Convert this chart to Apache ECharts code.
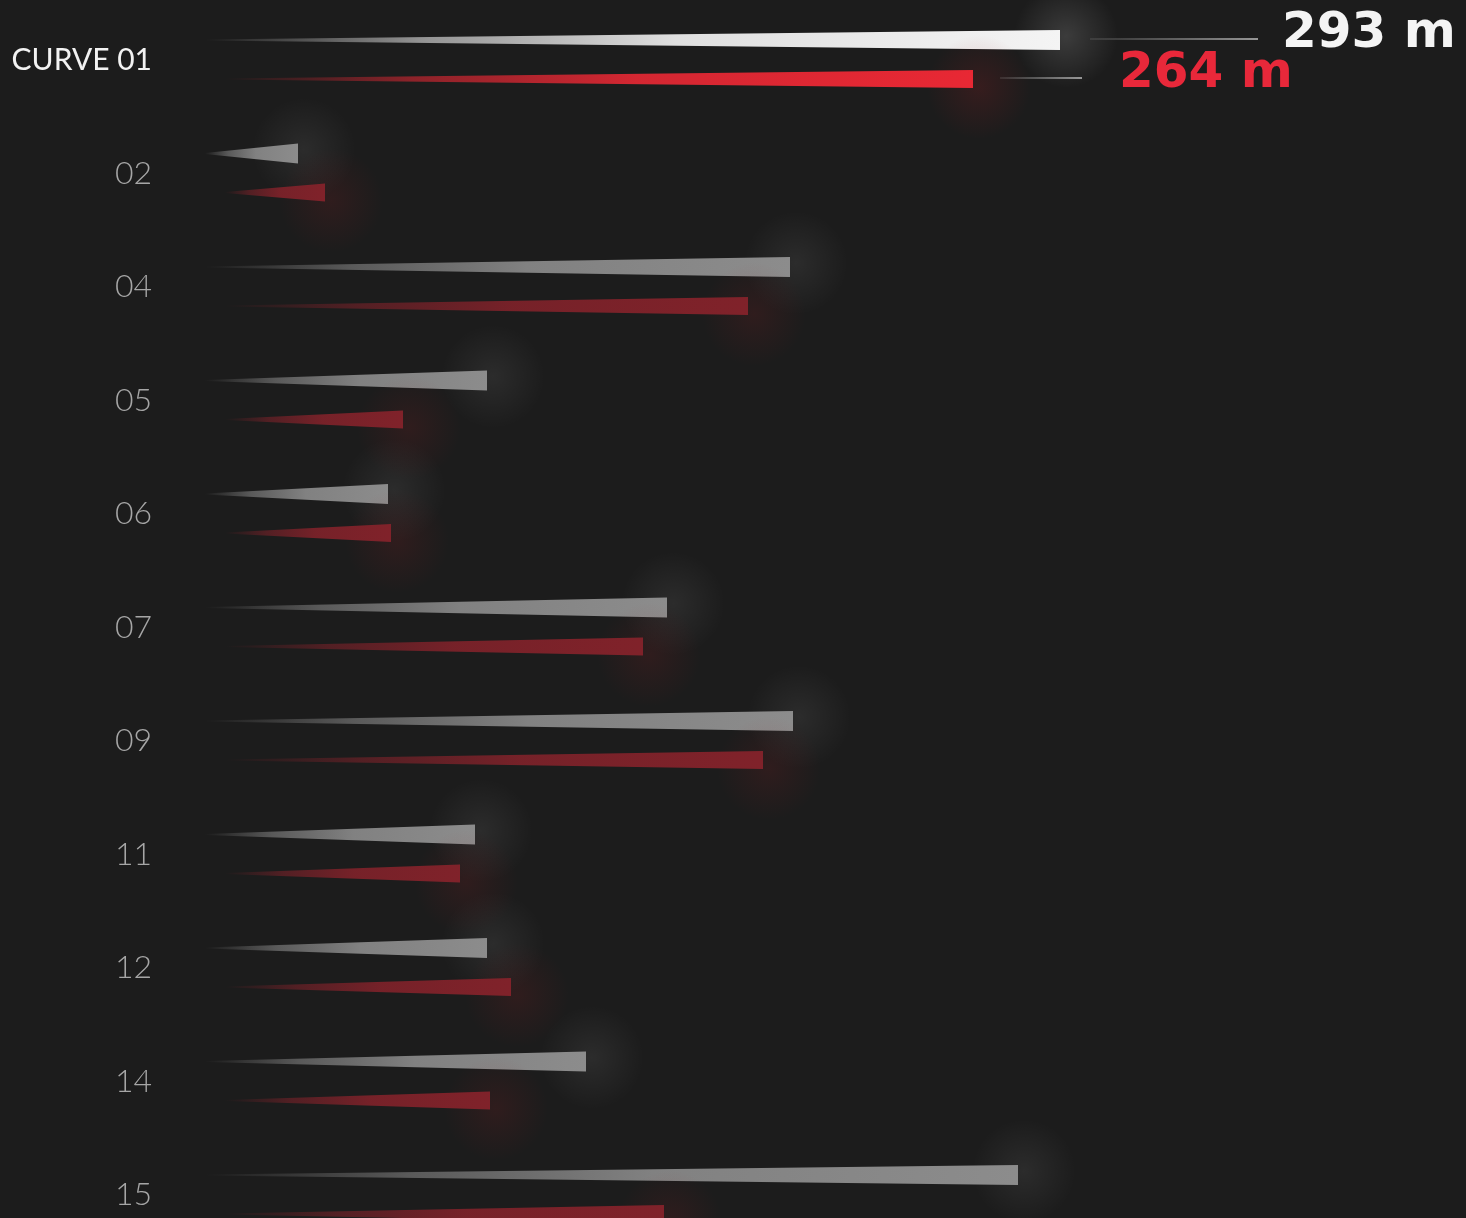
<!DOCTYPE html>
<html><head><meta charset="utf-8">
<script src="https://cdn.jsdelivr.net/npm/echarts@6/dist/echarts.min.js"></script>
<style>html,body{margin:0;padding:0;background:#1c1c1c;}#c{width:1466px;height:1218px;}</style>
</head><body><div id="c"></div>
<script>
const categories = ['CURVE 01','02','04','05','06','07','09','11','12','14','15'];
const whiteValues = [293,39,203,102,69,162,204,98,102,135,279];
const redValues = [264,48,189,74,70,154,194,93,110,103,161];
const unit = 'm';

function rgba(c,a){return 'rgba('+c[0]+','+c[1]+','+c[2]+','+a+')';}

function makeRender(kind){
  return function(params, api){
    const idx = api.value(0), v = api.value(1);
    const end = api.coord([v, idx]);
    const start = api.coord([0, idx]);
    const first = params.dataIndex === 0;
    const off = kind === 'white' ? -20 : 19;
    const y = end[1] + off;
    const h = kind === 'white' ? 20 : 18;
    const col = kind === 'white' ? (first ? [244,244,244] : [140,140,140]) : (first ? [232,40,52] : [128,34,42]);
    const glowCol = kind === 'white' ? [255,255,255] : [150,30,35];
    const glowA = kind === 'white' ? (first ? 0.14 : 0.07) : (first ? 0.22 : 0.16);
    const startX = start[0] + (kind === 'white' ? 24 : 44);
    const children = [];
    children.push({
      type:'circle', silent:true,
      shape:{cx: end[0] + 6, cy: y + (kind==='white'? -4 : 8), r: 52},
      style:{fill:{type:'radial',x:0.5,y:0.5,r:0.5,colorStops:[
        {offset:0,color:rgba(glowCol,glowA)},{offset:0.5,color:rgba(glowCol,glowA*0.5)},{offset:1,color:rgba(glowCol,0)}]}}
    });
    children.push({
      type:'polygon',
      shape:{points:[[startX, y-0.6],[end[0], y-h/2],[end[0], y+h/2],[startX, y+0.6]]},
      style:{fill:{type:'linear',x:0,y:0,x2:1,y2:0,colorStops:[
        {offset:0,color:rgba(col,0)},{offset:0.25,color:rgba(col,0.55)},{offset:0.55,color:rgba(col,0.9)},{offset:1,color:rgba(col,1)}]}}
    });
    if (first) {
      const lx0 = end[0] + (kind==='white' ? 30 : 27);
      const lx1 = end[0] + (kind==='white' ? 198 : 109);
      children.push({
        type:'line', silent:true,
        shape:{x1:lx0,y1:y-1,x2:lx1,y2:y-1},
        style:{stroke:{type:'linear',x:0,y:0,x2:1,y2:0,colorStops:[{offset:0,color:'rgba(200,200,200,0.15)'},{offset:1,color:'rgba(220,220,220,0.85)'}]},lineWidth:1.5}
      });
      children.push({
        type:'text', silent:true,
        style:{text: v + ' ' + unit, x: end[0] + (kind==='white' ? 222 : 146), y: y + (kind==='white' ? -6 : -5),
          verticalAlign:'middle', align:'left',
          fill: kind==='white' ? '#f4f4f4' : '#e8283a',
          font:'bold 50px "DejaVu Sans"'}
      });
    }
    return {type:'group', children};
  };
}

const chart = echarts.init(document.getElementById('c'));
chart.setOption({
  backgroundColor:'#1c1c1c',
  animation:false,
  grid:{left:181, right:85, top:60, bottom:23, containLabel:false},
  xAxis:{type:'value', min:0, max:400, show:false},
  yAxis:{type:'category', data:categories, inverse:true, boundaryGap:false,
    axisLine:{show:false}, axisTick:{show:false}, splitLine:{show:false},
    axisLabel:{margin:29, formatter:function(v,i){return i===0 ? '{a|'+v+'}' : '{b|'+v+'}';},
      rich:{a:{color:'#f2f2f2', fontSize:30, fontFamily:'Lato', fontWeight:'normal'},
            b:{color:'#a6a6a6', fontSize:32, fontFamily:'Lato', fontWeight:300}}}},
  series:[
    {type:'custom', name:'white', renderItem:makeRender('white'), encode:{x:1,y:0}, clip:false,
      data: whiteValues.map((v,i)=>[i,v])},
    {type:'custom', name:'red', renderItem:makeRender('red'), encode:{x:1,y:0}, clip:false,
      data: redValues.map((v,i)=>[i,v])}
  ]
});
</script></body></html>
